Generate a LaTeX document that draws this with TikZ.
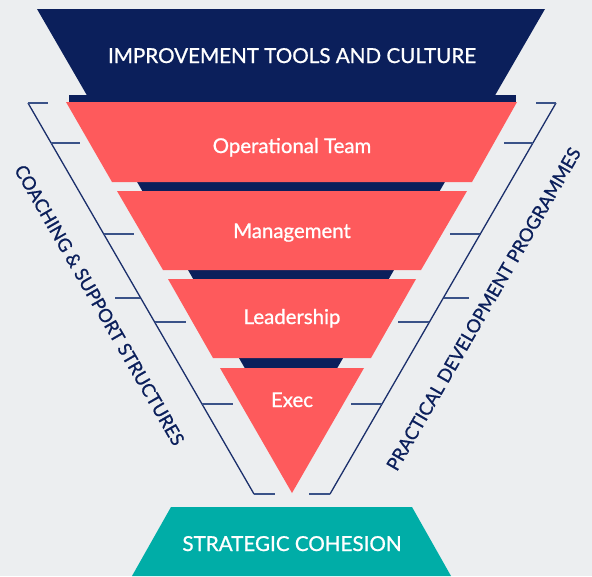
\documentclass[tikz,border=0pt]{standalone}
\usepackage{fontspec}
\setmainfont{Lato}
\newfontfamily\medfont{Lato}[FakeBold=0.9]
\definecolor{bg}{HTML}{ECEEF0}
\definecolor{navy}{HTML}{0B1F5B}
\definecolor{coral}{HTML}{FE5A5C}
\definecolor{tealc}{HTML}{00ADA7}
\definecolor{linec}{HTML}{1B2F6B}
\definecolor{tickc}{HTML}{3A5288}
\tikzset{
  band/.style={fill=coral, draw=none},
  bandlabel/.style={text=white, anchor=base, inner sep=0pt, font=\medfont\fontsize{20.4}{24}\selectfont},
  titlelabel/.style={text=white, anchor=base, inner sep=0pt, font=\medfont\fontsize{20.6}{24}\selectfont},
  sidelabel/.style={text=navy, anchor=center, inner sep=0pt, font=\medfont\fontsize{18.3}{22}\selectfont},
  bracket/.style={draw=linec, line width=1.3pt},
  tick/.style={draw=tickc, line width=1.3pt},
}
\begin{document}
\begin{tikzpicture}[x=1pt,y=-1pt]
\useasboundingbox (0,0) rectangle (592,576);
\fill[bg] (0,0) rectangle (592,576);
% navy background triangle and strip
\fill[navy] (37,9) -- (545,9) -- (291,448) -- cycle;
\fill[navy] (69,95) rectangle (516,103);
% bands
\fill[band] (66,102) -- (517,102) -- (472,182) -- (112,182) -- cycle;
\fill[band] (117,191) -- (467,191) -- (421,270) -- (163,270) -- cycle;
\fill[band] (168,279) -- (416,279) -- (371,358) -- (213,358) -- cycle;
\fill[band] (220,368) -- (364,368) -- (292,493) -- cycle;
% teal base
\fill[tealc] (171,507) -- (412,507) -- (451,576) -- (132,576) -- cycle;
% labels
\node[titlelabel] (title) at (292,63) {IMPROVEMENT TOOLS AND CULTURE};
\node[bandlabel] (op) at (292,153) {Operational Team};
\node[bandlabel] (mg) at (292,238) {Management};
\node[bandlabel] (ld) at (292,324) {Leadership};
\node[bandlabel] (ex) at (292,407) {Exec};
\node[titlelabel] (sc) at (292,551) {STRATEGIC COHESION};
% brackets
\coordinate (lt) at (28,103);
\coordinate (lb) at (254,494);
\coordinate (rt) at (556,103);
\coordinate (rb) at (330,494);
\draw[bracket] (lt) -- (lb);
\draw[bracket] (rt) -- (rb);
\draw[tick] (lt) -- (48,103);
\draw[tick] (lb) -- (275,494);
\draw[tick] (rt) -- (536,103);
\draw[tick] (rb) -- (309,494);
\foreach \y/\a/\b in {143/51/80, 234/104/134, 298/115/140, 322/155/186, 404/202/233}{
  \draw[tick] (\a,\y) -- (\b,\y);
  \draw[tick] ({584-\a},\y) -- ({584-\b},\y);
}
\node[sidelabel, rotate=-60] (cs) at (99.5,305) {COACHING \& SUPPORT STRUCTURES};
\node[sidelabel, rotate=60] (pd) at (483.5,309) {PRACTICAL DEVELOPMENT PROGRAMMES};
\end{tikzpicture}
\end{document}
